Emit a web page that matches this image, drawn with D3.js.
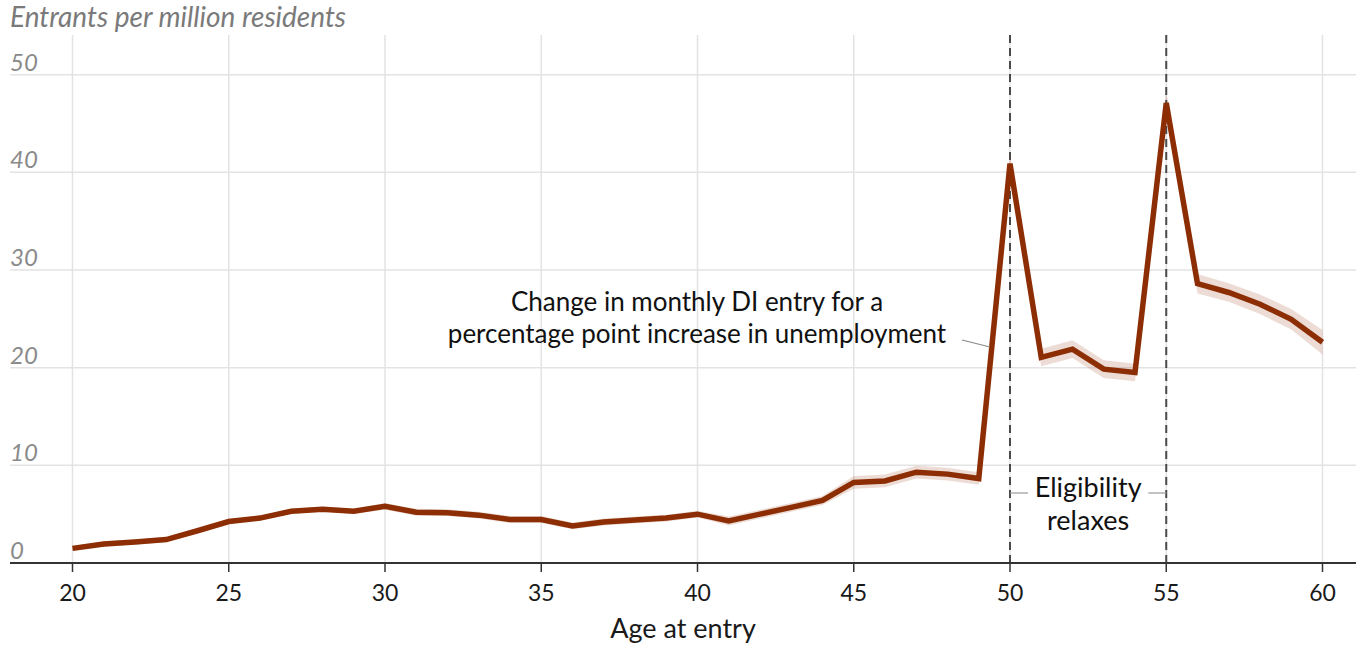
<!DOCTYPE html>
<html>
<head>
<meta charset="utf-8">
<script src="https://cdn.jsdelivr.net/npm/d3@7/dist/d3.min.js"></script>
<style>
  html, body { margin: 0; padding: 0; background: #fff; }
  svg { display: block; }
  text { font-family: "Source Sans Pro", Lato, "Noto Sans", sans-serif; }
</style>
</head>
<body>
<svg id="chart" width="1356" height="647"></svg>
<script>
// ---- Data ----
const ages = [20,21,22,23,24,25,26,27,28,29,30,31,32,33,34,35,36,37,38,39,40,
              41,42,43,44,45,46,47,48,49,50,51,52,53,54,55,56,57,58,59,60];
const entrants = [1.5,1.95,2.15,2.4,3.3,4.25,4.6,5.3,5.5,5.3,5.8,5.2,5.15,4.9,4.45,4.45,3.8,4.2,4.4,4.6,5.0,
                  4.3,5.0,5.7,6.4,8.25,8.4,9.3,9.1,8.65,40.9,21.05,21.9,19.85,19.5,47.1,28.6,27.7,26.5,24.95,22.6];
const lower = [1.25,1.7,1.9,2.15,3.05,4.0,4.35,5.05,5.25,5.05,5.45,4.85,4.8,4.55,4.1,4.1,3.45,3.85,4.05,4.25,4.65,
               3.85,4.55,5.25,5.95,7.6,7.75,8.65,8.45,8.0,39.9,20.15,21.0,18.95,18.6,45.9,27.6,26.75,25.5,23.9,21.35];
const upper = [1.75,2.2,2.4,2.65,3.55,4.5,4.85,5.55,5.75,5.55,6.15,5.55,5.5,5.25,4.8,4.8,4.15,4.55,4.75,4.95,5.35,
               4.75,5.45,6.15,6.85,8.9,9.05,9.95,9.75,9.3,41.9,21.95,22.8,20.75,20.4,48.3,29.6,28.65,27.5,26.0,23.85];
const yTicks = [0,10,20,30,40,50];
const xTicks = [20,25,30,35,40,45,50,55,60];
const thresholds = [50,55];
const yTitle = "Entrants per million residents";
const xTitle = "Age at entry";
const noteLines = ["Change in monthly DI entry for a", "percentage point increase in unemployment"];
const eligLines = ["Eligibility", "relaxes"];

// ---- Layout ----
const svg = d3.select("#chart");
const x = d3.scaleLinear().domain([20, 60]).range([72.5, 1322.5]);
const y = d3.scaleLinear().domain([0, 50]).range([563, 74.7]);
const gridLeft = 10, gridRight = 1356, plotTop = 35;
const lineColor = "#8c2d04";

// horizontal gridlines
svg.append("g").selectAll("line").data(yTicks.filter(d => d > 0)).join("line")
  .attr("x1", gridLeft).attr("x2", gridRight)
  .attr("y1", d => y(d)).attr("y2", d => y(d))
  .attr("stroke", "#e3e3e3").attr("stroke-width", 1.5);

// vertical gridlines
svg.append("g").selectAll("line").data(xTicks).join("line")
  .attr("x1", d => x(d)).attr("x2", d => x(d))
  .attr("y1", plotTop).attr("y2", y(0))
  .attr("stroke", "#e3e3e3").attr("stroke-width", 1.5);

// y tick labels
svg.append("g").selectAll("text").data(yTicks).join("text")
  .attr("x", gridLeft).attr("y", d => y(d) - 4)
  .attr("font-size", 24).attr("font-style", "italic").attr("fill", "#8a8a8a")
  .text(d => d);

// title
svg.append("text").attr("x", gridLeft).attr("y", 27)
  .attr("font-size", 28).attr("font-style", "italic").attr("fill", "#7a7a7a")
  .text(yTitle);

// threshold dashed lines
svg.append("g").selectAll("line").data(thresholds).join("line")
  .attr("x1", d => x(d)).attr("x2", d => x(d))
  .attr("y1", plotTop).attr("y2", y(0))
  .attr("stroke", "#4a4a4a").attr("stroke-width", 2).attr("stroke-dasharray", "8,5");

// confidence band
const data = ages.map((a, i) => ({a, v: entrants[i], lo: lower[i], hi: upper[i]}));
svg.append("path").datum(data)
  .attr("d", d3.area().x(d => x(d.a)).y0(d => y(d.lo)).y1(d => y(d.hi)))
  .attr("fill", lineColor).attr("fill-opacity", 0.17);

// main line
svg.append("path").datum(data)
  .attr("d", d3.line().x(d => x(d.a)).y(d => y(d.v)))
  .attr("fill", "none").attr("stroke", lineColor).attr("stroke-width", 5.5)
  .attr("stroke-linejoin", "miter");

// x axis line
svg.append("line").attr("x1", gridLeft).attr("x2", gridRight)
  .attr("y1", y(0)).attr("y2", y(0)).attr("stroke", "#333").attr("stroke-width", 2);

// x ticks
const xt = svg.append("g").selectAll("g").data(xTicks).join("g")
  .attr("transform", d => `translate(${x(d)},${y(0)})`);
xt.append("line").attr("y1", 0).attr("y2", 9).attr("stroke", "#333").attr("stroke-width", 1.5);
xt.append("text").attr("y", 38).attr("text-anchor", "middle")
  .attr("font-size", 23).attr("fill", "#1a1a1a").text(d => d);

// x title
svg.append("text").attr("x", 683).attr("y", 638).attr("text-anchor", "middle")
  .attr("font-size", 27).attr("fill", "#1a1a1a").text(xTitle);

// annotation: main series
const note = svg.append("text").attr("text-anchor", "middle")
  .attr("font-size", 26).attr("fill", "#111");
note.selectAll("tspan").data(noteLines).join("tspan")
  .attr("x", 697).attr("y", (d, i) => 311 + i * 31.5).text(d => d);
svg.append("line").attr("x1", 962).attr("y1", 340).attr("x2", 990).attr("y2", 347)
  .attr("stroke", "#888").attr("stroke-width", 1.2);

// annotation: eligibility
const midX = (x(50) + x(55)) / 2;
const elig = svg.append("text").attr("text-anchor", "middle")
  .attr("font-size", 27).attr("fill", "#111");
elig.selectAll("tspan").data(eligLines).join("tspan")
  .attr("x", midX).attr("y", (d, i) => 497 + i * 32.5).text(d => d);
svg.append("line").attr("x1", x(50)).attr("x2", x(50) + 18).attr("y1", 493).attr("y2", 493)
  .attr("stroke", "#999").attr("stroke-width", 1.2);
svg.append("line").attr("x1", x(55) - 18).attr("x2", x(55)).attr("y1", 493).attr("y2", 493)
  .attr("stroke", "#999").attr("stroke-width", 1.2);
</script>
</body>
</html>
